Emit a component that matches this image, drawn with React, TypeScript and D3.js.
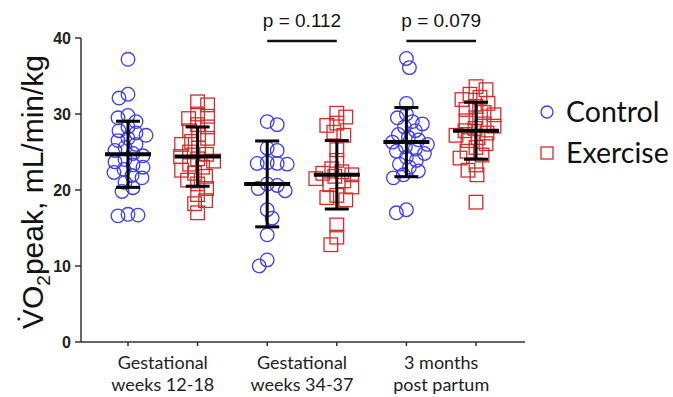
import React from "react";
import * as d3 from "d3";

const groups = ["Gestational\nweeks 12-18", "Gestational\nweeks 34-37", "3 months\npost partum"];
const seriesNames = ["Control", "Exercise"];

const control1 = [37.2, 32.6, 32.1, 29.8, 29.5, 29.0, 28.3, 27.8, 27.5, 27.2, 26.8, 26.5, 26.0, 25.6, 25.2, 24.8, 24.5, 24.0, 23.7, 23.3, 23.0, 22.7, 22.3, 21.9, 21.6, 21.0, 20.3, 19.8, 16.8, 16.7, 16.6];
const exercise1 = [31.6, 31.2, 30.0, 29.7, 29.4, 28.6, 28.3, 27.8, 27.3, 26.8, 26.4, 26.0, 25.5, 25.0, 24.7, 24.4, 24.1, 23.8, 23.4, 23.0, 22.6, 22.2, 21.8, 21.3, 20.8, 20.2, 19.4, 18.6, 18.2, 17.0];
const control2 = [29.0, 28.6, 25.5, 25.2, 23.6, 23.5, 23.5, 23.4, 20.8, 20.6, 20.2, 19.9, 17.4, 16.3, 14.1, 10.8, 10.0];
const exercise2 = [30.1, 29.6, 28.8, 28.5, 27.6, 27.2, 25.3, 23.9, 22.8, 22.4, 22.2, 22.0, 21.8, 21.5, 21.2, 20.7, 20.4, 19.3, 19.0, 18.7, 15.4, 13.8, 12.8];
const control3 = [37.3, 36.1, 31.4, 30.0, 29.5, 29.0, 28.7, 28.3, 27.8, 27.3, 26.9, 26.6, 26.3, 26.0, 25.7, 25.4, 25.1, 24.8, 24.3, 23.9, 23.4, 23.0, 22.5, 22.0, 21.6, 17.4, 17.0];
const exercise3 = [33.6, 33.2, 32.6, 32.2, 31.9, 31.4, 31.0, 30.6, 30.2, 29.9, 29.5, 29.1, 28.7, 28.4, 28.1, 27.8, 27.5, 27.2, 26.9, 26.5, 26.1, 25.6, 25.1, 24.6, 24.2, 23.3, 22.6, 22.0, 18.4];

const controlMeans = [24.7, 20.8, 26.3];
const controlSDs = [4.35, 5.65, 4.55];
const exerciseMeans = [24.4, 22.0, 27.8];
const exerciseSDs = [3.9, 4.5, 3.75];

const pLabels = ["p = 0.112", "p = 0.079"];
const pGroups = [1, 2];
const yTicks = [0, 10, 20, 30, 40];

const W = 673, H = 397;
const BLUE = "#3d3df2";
const RED = "#d42b2b";

// simple beeswarm: sorted by value, nearest free horizontal slot
function swarm(values: number[], y: (v: number) => number, minDist: number, maxW: number) {
  const pts = values.map(v => ({ v, py: y(v), dx: 0 }));
  const order = [...pts].sort((a, b) => a.py - b.py);
  const placed: { py: number; dx: number }[] = [];
  order.forEach((p, i) => {
    let best = 0, bestD = -1;
    outer: for (let k = 0; k <= maxW; k += 1) {
      const cands = k === 0 ? [0] : (i % 2 ? [k, -k] : [-k, k]);
      for (const s of cands) {
        let dmin = Infinity;
        placed.forEach(q => {
          const d = Math.hypot(q.dx - s, q.py - p.py);
          if (d < dmin) dmin = d;
        });
        if (dmin >= minDist) { best = s; bestD = Infinity; break outer; }
        if (dmin > bestD) { bestD = dmin; best = s; }
      }
    }
    p.dx = best;
    placed.push(p);
  });
  return pts;
}

export default function App() {
  const y = d3.scaleLinear().domain([0, 40]).range([342, 38]);
  const x = d3.scaleLinear().domain([0, 5]).range([128, 476]);
  const axisLeft = 81, axisRight = 525;

  const controls = [control1, control2, control3];
  const exercises = [exercise1, exercise2, exercise3];

  const r = 6.8;

  const errorBar = (cx: number, mean: number, sd: number, key: string) => (
    <g key={key} stroke="#000">
      <line x1={cx} x2={cx} y1={y(mean + sd)} y2={y(mean - sd)} strokeWidth={3} />
      <line x1={cx - 12} x2={cx + 12} y1={y(mean + sd)} y2={y(mean + sd)} strokeWidth={3} />
      <line x1={cx - 12} x2={cx + 12} y1={y(mean - sd)} y2={y(mean - sd)} strokeWidth={3} />
      <line x1={cx - 23} x2={cx + 23} y1={y(mean)} y2={y(mean)} strokeWidth={4} />
    </g>
  );

  return (
    <svg width={W} height={H} style={{ position: "absolute", left: 0, top: 0, background: "#fff" }}>
      {/* axes */}
      <g stroke="#333" strokeWidth={1.5} fill="none">
        <line x1={axisLeft} x2={axisLeft} y1={y(0)} y2={y(40)} />
        <line x1={axisLeft} x2={axisRight} y1={y(0)} y2={y(0)} />
        {yTicks.map(t => (
          <line key={t} x1={axisLeft - 6} x2={axisLeft} y1={y(t)} y2={y(t)} />
        ))}
        {d3.range(6).map(i => (
          <line key={i} x1={x(i)} x2={x(i)} y1={y(0)} y2={y(0) + 4} />
        ))}
      </g>
      {yTicks.map(t => (
        <text key={t} x={axisLeft - 10} y={y(t)} dy="0.36em" textAnchor="end"
          fontFamily="Liberation Sans, Arial, sans-serif" fontWeight="bold" fontSize={16} fill="#222">
          {t}
        </text>
      ))}
      <text transform={`translate(43,${y(20) + 2}) rotate(-90)`} textAnchor="middle"
        fontFamily="Liberation Sans, Arial, sans-serif" fontSize={30} fill="#111">
        V&#775;O<tspan fontSize={19} dy={7}>2</tspan><tspan dy={-7}>peak, mL/min/kg</tspan>
      </text>
      {groups.map((g, i) => {
        const cx = (x(i * 2) + x(i * 2 + 1)) / 2;
        return (
          <text key={g} x={cx} y={369} textAnchor="middle" fontFamily="Lato, sans-serif" fontSize={18} fill="#222">
            {g.split("\n").map((l, j) => (
              <tspan key={j} x={cx} dy={j === 0 ? 0 : 22}>{l}</tspan>
            ))}
          </text>
        );
      })}

      {/* points */}
      {controls.map((vals, i) => {
        const cx = x(i * 2);
        return swarm(vals, y, 9.5, 21).map((p, j) => (
          <circle key={`c${i}-${j}`} cx={cx + p.dx} cy={p.py} r={r} fill="none" stroke={BLUE} strokeWidth={1.3} />
        ));
      })}
      {exercises.map((vals, i) => {
        const cx = x(i * 2 + 1);
        return swarm(vals, y, 9.5, 21).map((p, j) => (
          <rect key={`e${i}-${j}`} x={cx + p.dx - r} y={p.py - r} width={2 * r} height={2 * r}
            fill="none" stroke={RED} strokeWidth={1.3} />
        ));
      })}

      {/* mean +- SD */}
      {controlMeans.map((m, i) => errorBar(x(i * 2), m, controlSDs[i], `cb${i}`))}
      {exerciseMeans.map((m, i) => errorBar(x(i * 2 + 1), m, exerciseSDs[i], `eb${i}`))}

      {/* p-values */}
      {pGroups.map((g, i) => (
        <g key={g}>
          <line x1={x(g * 2)} x2={x(g * 2 + 1)} y1={41} y2={41} stroke="#111" strokeWidth={2.5} />
          <text x={(x(g * 2) + x(g * 2 + 1)) / 2} y={27} textAnchor="middle"
            fontFamily="Liberation Sans, Arial, sans-serif" fontSize={19} fill="#111">
            {pLabels[i]}
          </text>
        </g>
      ))}

      {/* legend */}
      <g fontFamily="Lato, sans-serif" fontSize={28.5} fill="#111">
        <circle cx={547} cy={112} r={6} fill="none" stroke={BLUE} strokeWidth={1.3} />
        <text x={566} y={112} dy="0.35em">{seriesNames[0]}</text>
        <rect x={541} y={147} width={12} height={12} fill="none" stroke={RED} strokeWidth={1.3} />
        <text x={566} y={153} dy="0.35em">{seriesNames[1]}</text>
      </g>
    </svg>
  );
}
